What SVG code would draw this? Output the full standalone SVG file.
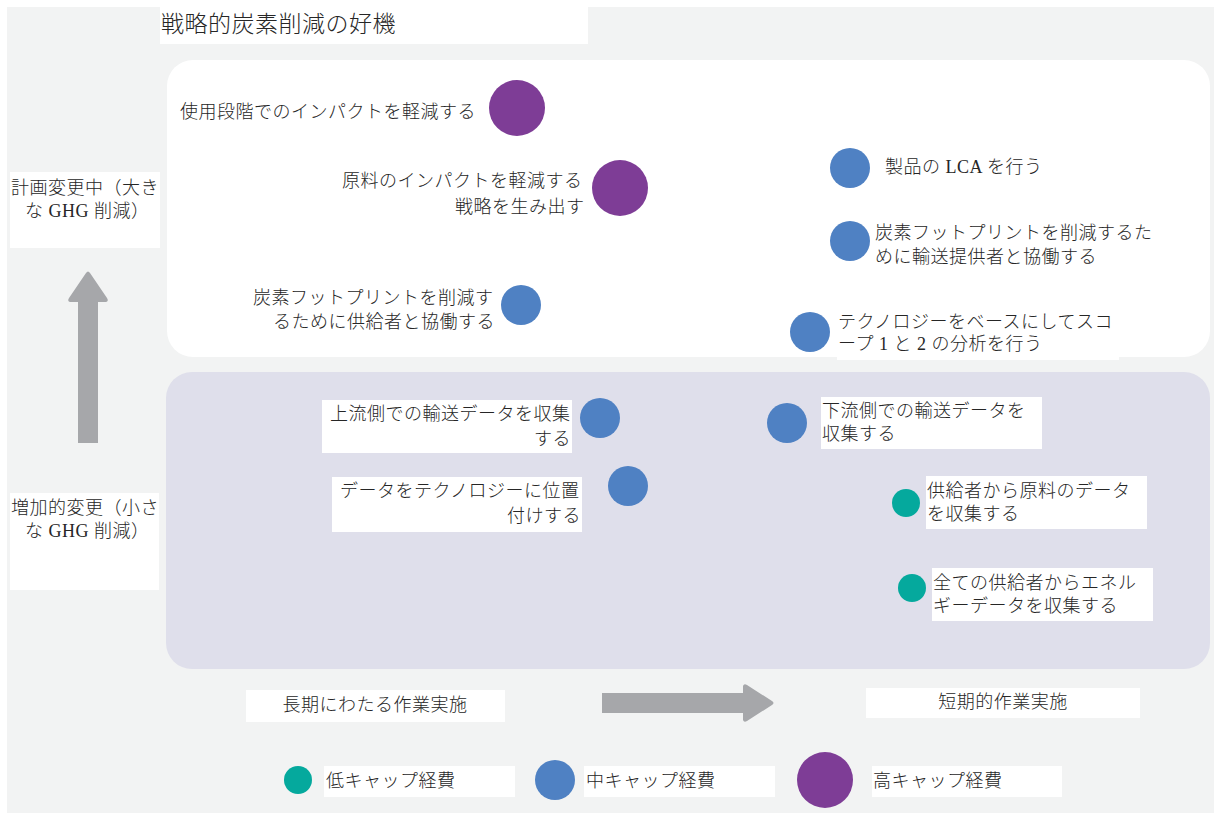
<svg xmlns="http://www.w3.org/2000/svg" width="1214" height="813" viewBox="0 0 1214 813">
<style>
text{font-family:"Liberation Serif","Noto Sans CJK JP",serif;fill:#262626;font-size:18px;font-weight:300;letter-spacing:0.5px}
.lbl{fill:#fff}
.hi{fill:#7e3d96}
.mid{fill:#4f81c3}
.low{fill:#05a99d}
.arrow{fill:#a6a7aa}
</style>
<rect x="0" y="0" width="1214" height="813" fill="#fff"/>
<rect x="7" y="7" width="1207" height="806" fill="#f2f3f3"/>
<rect x="167" y="60" width="1043" height="297" rx="26" fill="#fff"/>
<rect x="166" y="372" width="1044" height="297" rx="26" fill="#dfdfeb"/>

<g id="title">
<rect class="lbl" x="160" y="7" width="428" height="37"/>
<text x="161" y="32" style="font-size:23px">戦略的炭素削減の好機</text>
</g>

<g id="axis-high">
<rect class="lbl" x="10" y="172" width="150" height="76"/>
<text x="11" y="194">計画変更中（大き</text>
<text x="25" y="217">な GHG 削減）</text>
</g>
<g id="axis-low">
<rect class="lbl" x="10" y="493" width="149" height="97"/>
<text x="11" y="514">増加的変更（小さ</text>
<text x="25" y="537">な GHG 削減）</text>
</g>
<g id="axis-long">
<rect class="lbl" x="246" y="690" width="259" height="32"/>
<text x="375" y="711" text-anchor="middle">長期にわたる作業実施</text>
</g>
<g id="axis-short">
<rect class="lbl" x="866" y="688" width="274" height="30"/>
<text x="1003" y="708" text-anchor="middle">短期的作業実施</text>
</g>

<g id="connectors">
<path class="arrow" d="M78,443 L78,302 L70,302 Q67,301 69,298 L86,273 Q88,270 90,273 L107,298 Q109,301 106,302 L98,302 L98,443 Z"/>
<path class="arrow" d="M602,693 L743,693 L743,686 Q744,683 747,685 L772,701 Q775,703 772,705 L747,721 Q744,723 743,720 L743,713 L602,713 Z"/>
</g>

<g id="n-use-phase">
<circle class="hi" cx="517" cy="108" r="28"/>
<text x="180" y="118">使用段階でのインパクトを軽減する</text>
</g>
<g id="n-raw-material">
<circle class="hi" cx="620" cy="188" r="28"/>
<text x="342" y="187">原料のインパクトを軽減する</text>
<text x="455" y="213">戦略を生み出す</text>
</g>
<g id="n-suppliers-collab">
<circle class="mid" cx="521" cy="305" r="20"/>
<text x="253" y="304">炭素フットプリントを削減す</text>
<text x="273" y="328">るために供給者と協働する</text>
</g>
<g id="n-lca">
<circle class="mid" cx="850" cy="168" r="20"/>
<text x="885" y="173">製品の LCA を行う</text>
</g>
<g id="n-transport-collab">
<circle class="mid" cx="850" cy="241" r="20"/>
<text x="875" y="239">炭素フットプリントを削減するた</text>
<text x="875" y="263">めに輸送提供者と協働する</text>
</g>
<g id="n-scope12">
<rect class="lbl" x="837" y="310" width="282" height="50"/>
<circle class="mid" cx="810" cy="332" r="20"/>
<text x="838" y="328">テクノロジーをベースにしてスコ</text>
<text x="838" y="350">ープ 1 と 2 の分析を行う</text>
</g>
<g id="n-upstream">
<rect class="lbl" x="322" y="400" width="250" height="53"/>
<circle class="mid" cx="600" cy="418" r="20"/>
<text x="330" y="420">上流側での輸送データを収集</text>
<text x="534" y="445">する</text>
</g>
<g id="n-downstream">
<rect class="lbl" x="821" y="397" width="221" height="52"/>
<circle class="mid" cx="787" cy="423" r="20"/>
<text x="822" y="417">下流側での輸送データを</text>
<text x="822" y="440">収集する</text>
</g>
<g id="n-data-tech">
<rect class="lbl" x="332" y="477" width="250" height="55"/>
<circle class="mid" cx="628" cy="486" r="20"/>
<text x="340" y="497">データをテクノロジーに位置</text>
<text x="507" y="522">付けする</text>
</g>
<g id="n-raw-data">
<rect class="lbl" x="926" y="476" width="221" height="53"/>
<circle class="low" cx="906" cy="503" r="14"/>
<text x="927" y="497">供給者から原料のデータ</text>
<text x="927" y="520">を収集する</text>
</g>
<g id="n-energy-data">
<rect class="lbl" x="932" y="568" width="221" height="53"/>
<circle class="low" cx="912" cy="588" r="14"/>
<text x="933" y="589">全ての供給者からエネル</text>
<text x="933" y="612">ギーデータを収集する</text>
</g>

<g id="legend-low">
<circle class="low" cx="298" cy="780" r="14"/>
<rect class="lbl" x="324" y="766" width="191" height="31"/>
<text x="326" y="787">低キャップ経費</text>
</g>
<g id="legend-mid">
<circle class="mid" cx="555" cy="780" r="20"/>
<rect class="lbl" x="584" y="766" width="191" height="31"/>
<text x="586" y="787">中キャップ経費</text>
</g>
<g id="legend-high">
<circle class="hi" cx="825" cy="780" r="28"/>
<rect class="lbl" x="872" y="766" width="190" height="31"/>
<text x="873" y="787">高キャップ経費</text>
</g>
</svg>
